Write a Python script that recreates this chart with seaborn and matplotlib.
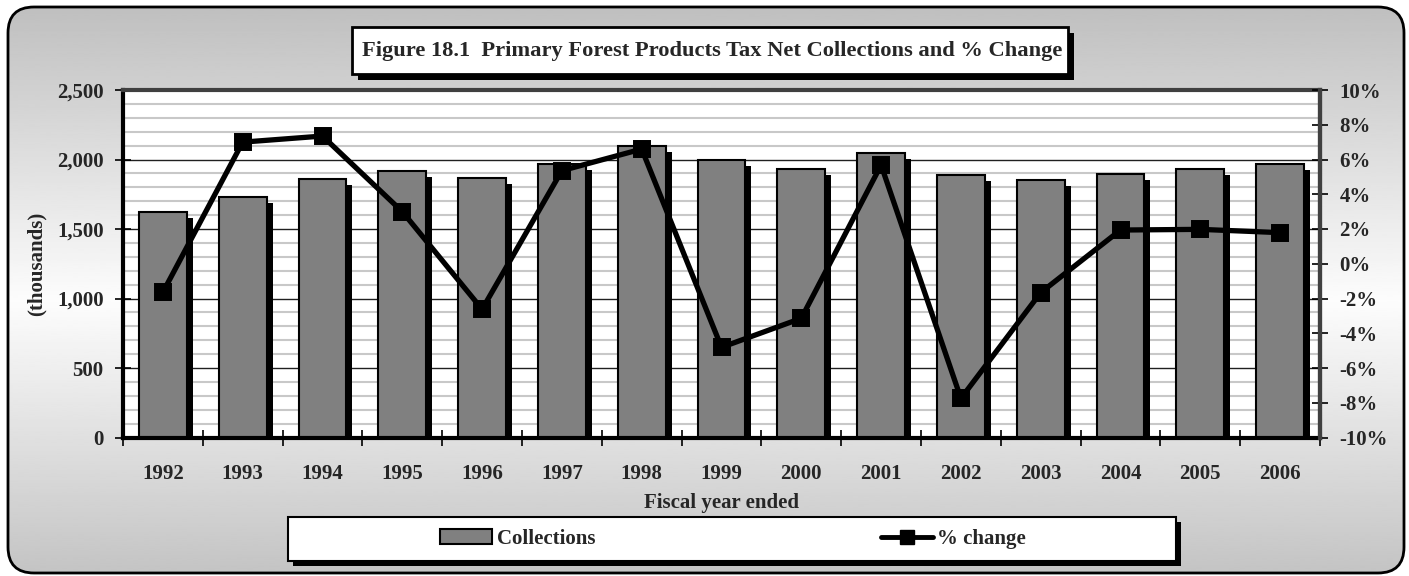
import numpy as np
import pandas as pd
import matplotlib
matplotlib.use("Agg")
import matplotlib.pyplot as plt
import matplotlib.transforms as mtransforms
from matplotlib.patches import FancyBboxPatch, Rectangle, Patch
from matplotlib.lines import Line2D
from matplotlib.ticker import FuncFormatter, MultipleLocator, FixedLocator
import seaborn as sns

# Fiscal years and values
years = ["1992", "1993", "1994", "1995", "1996", "1997", "1998", "1999",
         "2000", "2001", "2002", "2003", "2004", "2005", "2006"]
collections = [1620, 1732, 1862, 1917, 1867, 1970, 2099, 1999,
               1934, 2047, 1886, 1853, 1893, 1929, 1965]          # thousands
pct_change = [-1.64, 7.0, 7.35, 3.0, -2.62, 5.36, 6.6, -4.81,
              -3.14, 5.68, -7.75, -1.66, 1.94, 1.98, 1.79]        # percent

title = "Figure 18.1  Primary Forest Products Tax Net Collections and % Change"

df = pd.DataFrame({"year": years, "collections": collections, "pct": pct_change})

sns.set_theme(style="white")
plt.rcParams["font.family"] = ["Liberation Serif", "DejaVu Serif"]
plt.rcParams["font.weight"] = "bold"
FS = 15

W, H = 1409, 576
fig = plt.figure(figsize=(W / 100, H / 100), dpi=100)
fig.patch.set_facecolor("white")

# ---- background panel with vertical gradient and rounded border ----
bg = fig.add_axes([0, 0, 1, 1], zorder=0)
bg.axis("off")
yy = np.linspace(0, 1, 300)
shade = 0.75 + 0.24 * (1 - np.abs(yy - 0.52) / 0.52)
grad = np.clip(shade, 0, 1)[:, None]
panel = FancyBboxPatch((8, 7), 1396, 566, boxstyle="round,pad=0,rounding_size=26",
                       facecolor="none", edgecolor="black", linewidth=2, zorder=3)
img = bg.imshow(grad, extent=(8, 1404, 573, 7), cmap="gray", vmin=0, vmax=1,
                aspect="auto", interpolation="bilinear", zorder=1)
bg.add_patch(panel)
img.set_clip_path(panel)
bg.set_xlim(0, W)
bg.set_ylim(H, 0)

# title box with drop shadow
bg.add_patch(Rectangle((358, 33), 716, 47, facecolor="black", edgecolor="none", zorder=4))
bg.add_patch(Rectangle((352, 27), 716, 47, facecolor="white", edgecolor="black",
                       linewidth=2, zorder=5))
bg.text(712, 51, title, ha="center", va="center", fontsize=16.2, fontweight="bold", zorder=6)

# legend box with drop shadow
bg.add_patch(Rectangle((293, 522), 888, 44, facecolor="black", edgecolor="none", zorder=4))
bg.add_patch(Rectangle((288, 517), 888, 44, facecolor="white", edgecolor="black",
                       linewidth=1.5, zorder=5))

# ---- main plot ----
ax = fig.add_axes([123 / W, 1 - 437.5 / H, (1320 - 123) / W, (437.5 - 90) / H], zorder=2)
ax.patch.set_facecolor("white")

# bar shadows, shifted right/down
n0 = len(ax.patches)
sns.barplot(data=df, x="year", y="collections", color="black", width=0.6,
            saturation=1, linewidth=0, ax=ax)
shift = mtransforms.ScaledTranslation(6 / 100, -6 / 100, fig.dpi_scale_trans)
for p in ax.patches[n0:]:
    p.set_transform(ax.transData + shift)

sns.barplot(data=df, x="year", y="collections", color="#808080", width=0.6,
            saturation=1, edgecolor="black", linewidth=1.5, ax=ax)

ax.set_xlim(-0.5, len(years) - 0.5)
ax.set_ylim(0, 2500)
ax.yaxis.set_major_locator(MultipleLocator(500))
ax.yaxis.set_minor_locator(MultipleLocator(100))
ax.yaxis.set_major_formatter(FuncFormatter(lambda v, p: f"{int(v):,}"))
ax.grid(False)
ax.grid(which="minor", axis="y", color="#c8c8c8", linewidth=1.5)
ax.grid(which="major", axis="y", color="#202020", linewidth=1.0)
ax.set_axisbelow(True)

ax.xaxis.set_minor_locator(FixedLocator(np.arange(-0.5, len(years), 1.0)))
ax.tick_params(axis="x", which="major", length=0, pad=19, labelsize=FS)
ax.tick_params(axis="x", which="minor", direction="inout", length=12, width=1.2,
               color="black", bottom=True)
ax.tick_params(axis="y", which="major", direction="inout", length=12, width=1.2,
               color="black", left=True, pad=8, labelsize=FS)
ax.tick_params(axis="y", which="minor", length=0)
for lab in ax.get_xticklabels() + ax.get_yticklabels():
    lab.set_fontweight("bold")

ax.set_xlabel("Fiscal year ended", fontsize=FS, fontweight="bold")
ax.xaxis.set_label_coords(0.5, -0.16)
ax.set_ylabel("(thousands)", fontsize=FS, fontweight="bold")
ax.yaxis.set_label_coords(-0.064, 0.5)

for side in ["left", "bottom"]:
    ax.spines[side].set_color("black")
    ax.spines[side].set_linewidth(3)
for side in ["top", "right"]:
    ax.spines[side].set_color("#404040")
    ax.spines[side].set_linewidth(3)

# ---- percent change line on the secondary axis ----
ax2 = ax.twinx()
sns.pointplot(data=df, x="year", y="pct", color="black", markers="s",
              linestyles="-", errorbar=None, markersize=10, linewidth=3.8, ax=ax2)
ax2.set_xlim(-0.5, len(years) - 0.5)
ax2.set_ylim(-10, 10)
ax2.yaxis.set_major_locator(MultipleLocator(2))
ax2.yaxis.set_major_formatter(FuncFormatter(lambda v, p: f"{int(round(v))}%"))
ax2.tick_params(axis="y", which="major", direction="inout", length=12, width=1.2,
                color="black", right=True, pad=8, labelsize=FS)
for lab in ax2.get_yticklabels():
    lab.set_fontweight("bold")
ax2.set_ylabel("")
ax2.set_xlabel("")
ax2.grid(False)
for side in ["left", "top", "bottom"]:
    ax2.spines[side].set_visible(False)
ax2.spines["right"].set_color("#404040")
ax2.spines["right"].set_linewidth(3)

# ---- legend ----
handles = [
    Patch(facecolor="#808080", edgecolor="black", linewidth=1.5),
    Line2D([], [], color="black", marker="s", markersize=10, linewidth=3.5),
]
leg = fig.legend(handles, ["Collections", "% change"], loc="center",
                 bbox_to_anchor=(733 / W, 1 - 539 / H), ncol=2, frameon=False,
                 handlelength=2.5, handletextpad=0.2, columnspacing=13.7,
                 prop={"size": FS, "weight": "bold"})
leg.set_zorder(10)

fig.savefig("out.png", dpi=100)
